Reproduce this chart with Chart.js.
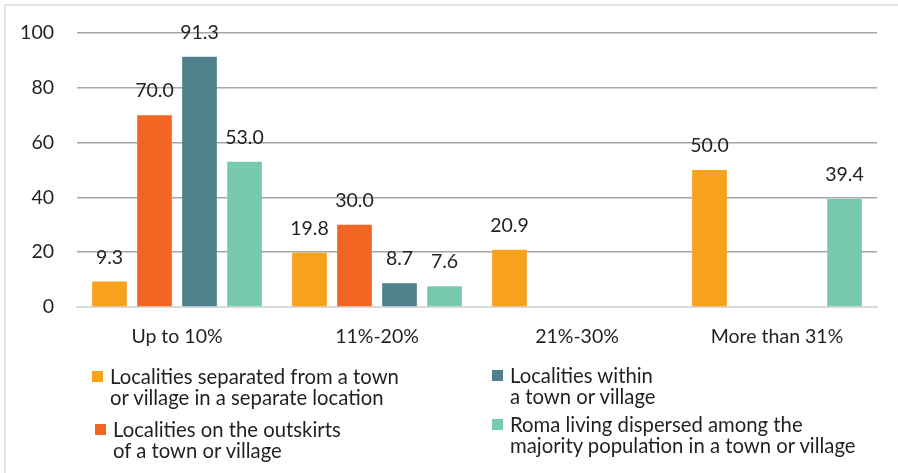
<!DOCTYPE html>
<html>
<head>
<meta charset="utf-8">
<script src="https://cdn.jsdelivr.net/npm/chart.js@4"></script>
<style>
  html, body { margin: 0; padding: 0; background: #fff; }
  #wrap { position: relative; width: 898px; height: 473px; overflow: hidden; }
  #frame { position: absolute; left: 4px; top: 4px; right: -4px; bottom: -4px;
           border-top: 2px solid #e3e3e3; border-left: 2px solid #e3e3e3; }
  canvas { position: absolute; left: 0; top: 0; }
  .leg { position: absolute; font-family: Lato, sans-serif; font-size: 20.3px;
         line-height: 21px; color: #231f20; white-space: nowrap; }
  .leg i { position: absolute; left: -18px; top: 5px; width: 11px; height: 11px; }
</style>
</head>
<body>
<div id="wrap">
  <div id="frame"></div>
  <canvas id="grafico" width="898" height="473"></canvas>
  <div id="legenda"></div>
</div>
<script>
const categorias = ['Up to 10%', '11%-20%', '21%-30%', 'More than 31%'];
const separadas = [9.3, 19.8, 20.9, 50.0];
const periferia = [70.0, 30.0, null, null];
const dentro = [91.3, 8.7, null, null];
const dispersos = [53.0, 7.6, null, 39.4];
const ticksY = [0, 20, 40, 60, 80, 100];

const series = [
  { nome: 'Localities separated from a town\nor village in a separate location', dados: separadas, cor: '#f7a11c', x: 110, y: 366 },
  { nome: 'Localities on the outskirts\nof a town or village', dados: periferia, cor: '#f26522', x: 113, y: 419 },
  { nome: 'Localities within\na town or village', dados: dentro, cor: '#50808b', x: 510, y: 365 },
  { nome: 'Roma living dispersed among the\nmajority population in a town or village', dados: dispersos, cor: '#77caad', x: 510, y: 414 }
];

const fonte = { family: 'Lato', size: 19.5 };

// rótulos de valor acima de cada barra
const rotulos = {
  id: 'rotulos',
  afterDatasetsDraw(chart) {
    const ctx = chart.ctx;
    ctx.save();
    ctx.font = '19.5px Lato, sans-serif';
    ctx.fillStyle = '#231f20';
    ctx.textAlign = 'center';
    ctx.textBaseline = 'middle';
    chart.data.datasets.forEach((ds, i) => {
      chart.getDatasetMeta(i).data.forEach((barra, j) => {
        const v = ds.data[j];
        if (v === null) return;
        ctx.fillText(v.toFixed(1), barra.x, barra.y - 24);
      });
    });
    ctx.restore();
  }
};

new Chart(document.getElementById('grafico'), {
  type: 'bar',
  data: {
    labels: categorias,
    datasets: series.map(s => ({
      label: s.nome,
      data: s.dados,
      backgroundColor: s.cor,
      borderWidth: 0,
      categoryPercentage: 0.9,
      barPercentage: 0.77
    }))
  },
  options: {
    responsive: false,
    animation: false,
    layout: { padding: { top: 33, right: 21, left: 0, bottom: 0 } },
    plugins: {
      legend: { display: false },
      tooltip: { enabled: false }
    },
    scales: {
      x: {
        grid: { display: false },
        border: { display: true, color: '#d9d9d9', width: 2 },
        ticks: { color: '#231f20', font: fonte, padding: 10 },
        afterFit(s) { s.height = 166; s.paddingLeft = 0; s.paddingRight = 0; }
      },
      y: {
        min: 0,
        max: 100,
        afterBuildTicks(s) { s.ticks = ticksY.map(v => ({ value: v })); },
        grid: {
          color: ctx => ctx.tick.value === 0 ? '#d9d9d9' : '#a6a6a6',
          lineWidth: 1.5,
          drawTicks: false
        },
        border: { display: false },
        ticks: { color: '#231f20', font: fonte, padding: 23 },
        afterFit(s) { s.width = 77; s.paddingTop = 0; s.paddingBottom = 0; }
      }
    }
  },
  plugins: [rotulos]
});

// legenda em HTML com textos de duas linhas
const legenda = document.getElementById('legenda');
series.forEach(s => {
  const d = document.createElement('div');
  d.className = 'leg';
  d.style.left = s.x + 'px';
  d.style.top = s.y + 'px';
  d.innerHTML = '<i style="background:' + s.cor + '"></i>' + s.nome.replace('\n', '<br>');
  legenda.appendChild(d);
});
</script>
</body>
</html>
